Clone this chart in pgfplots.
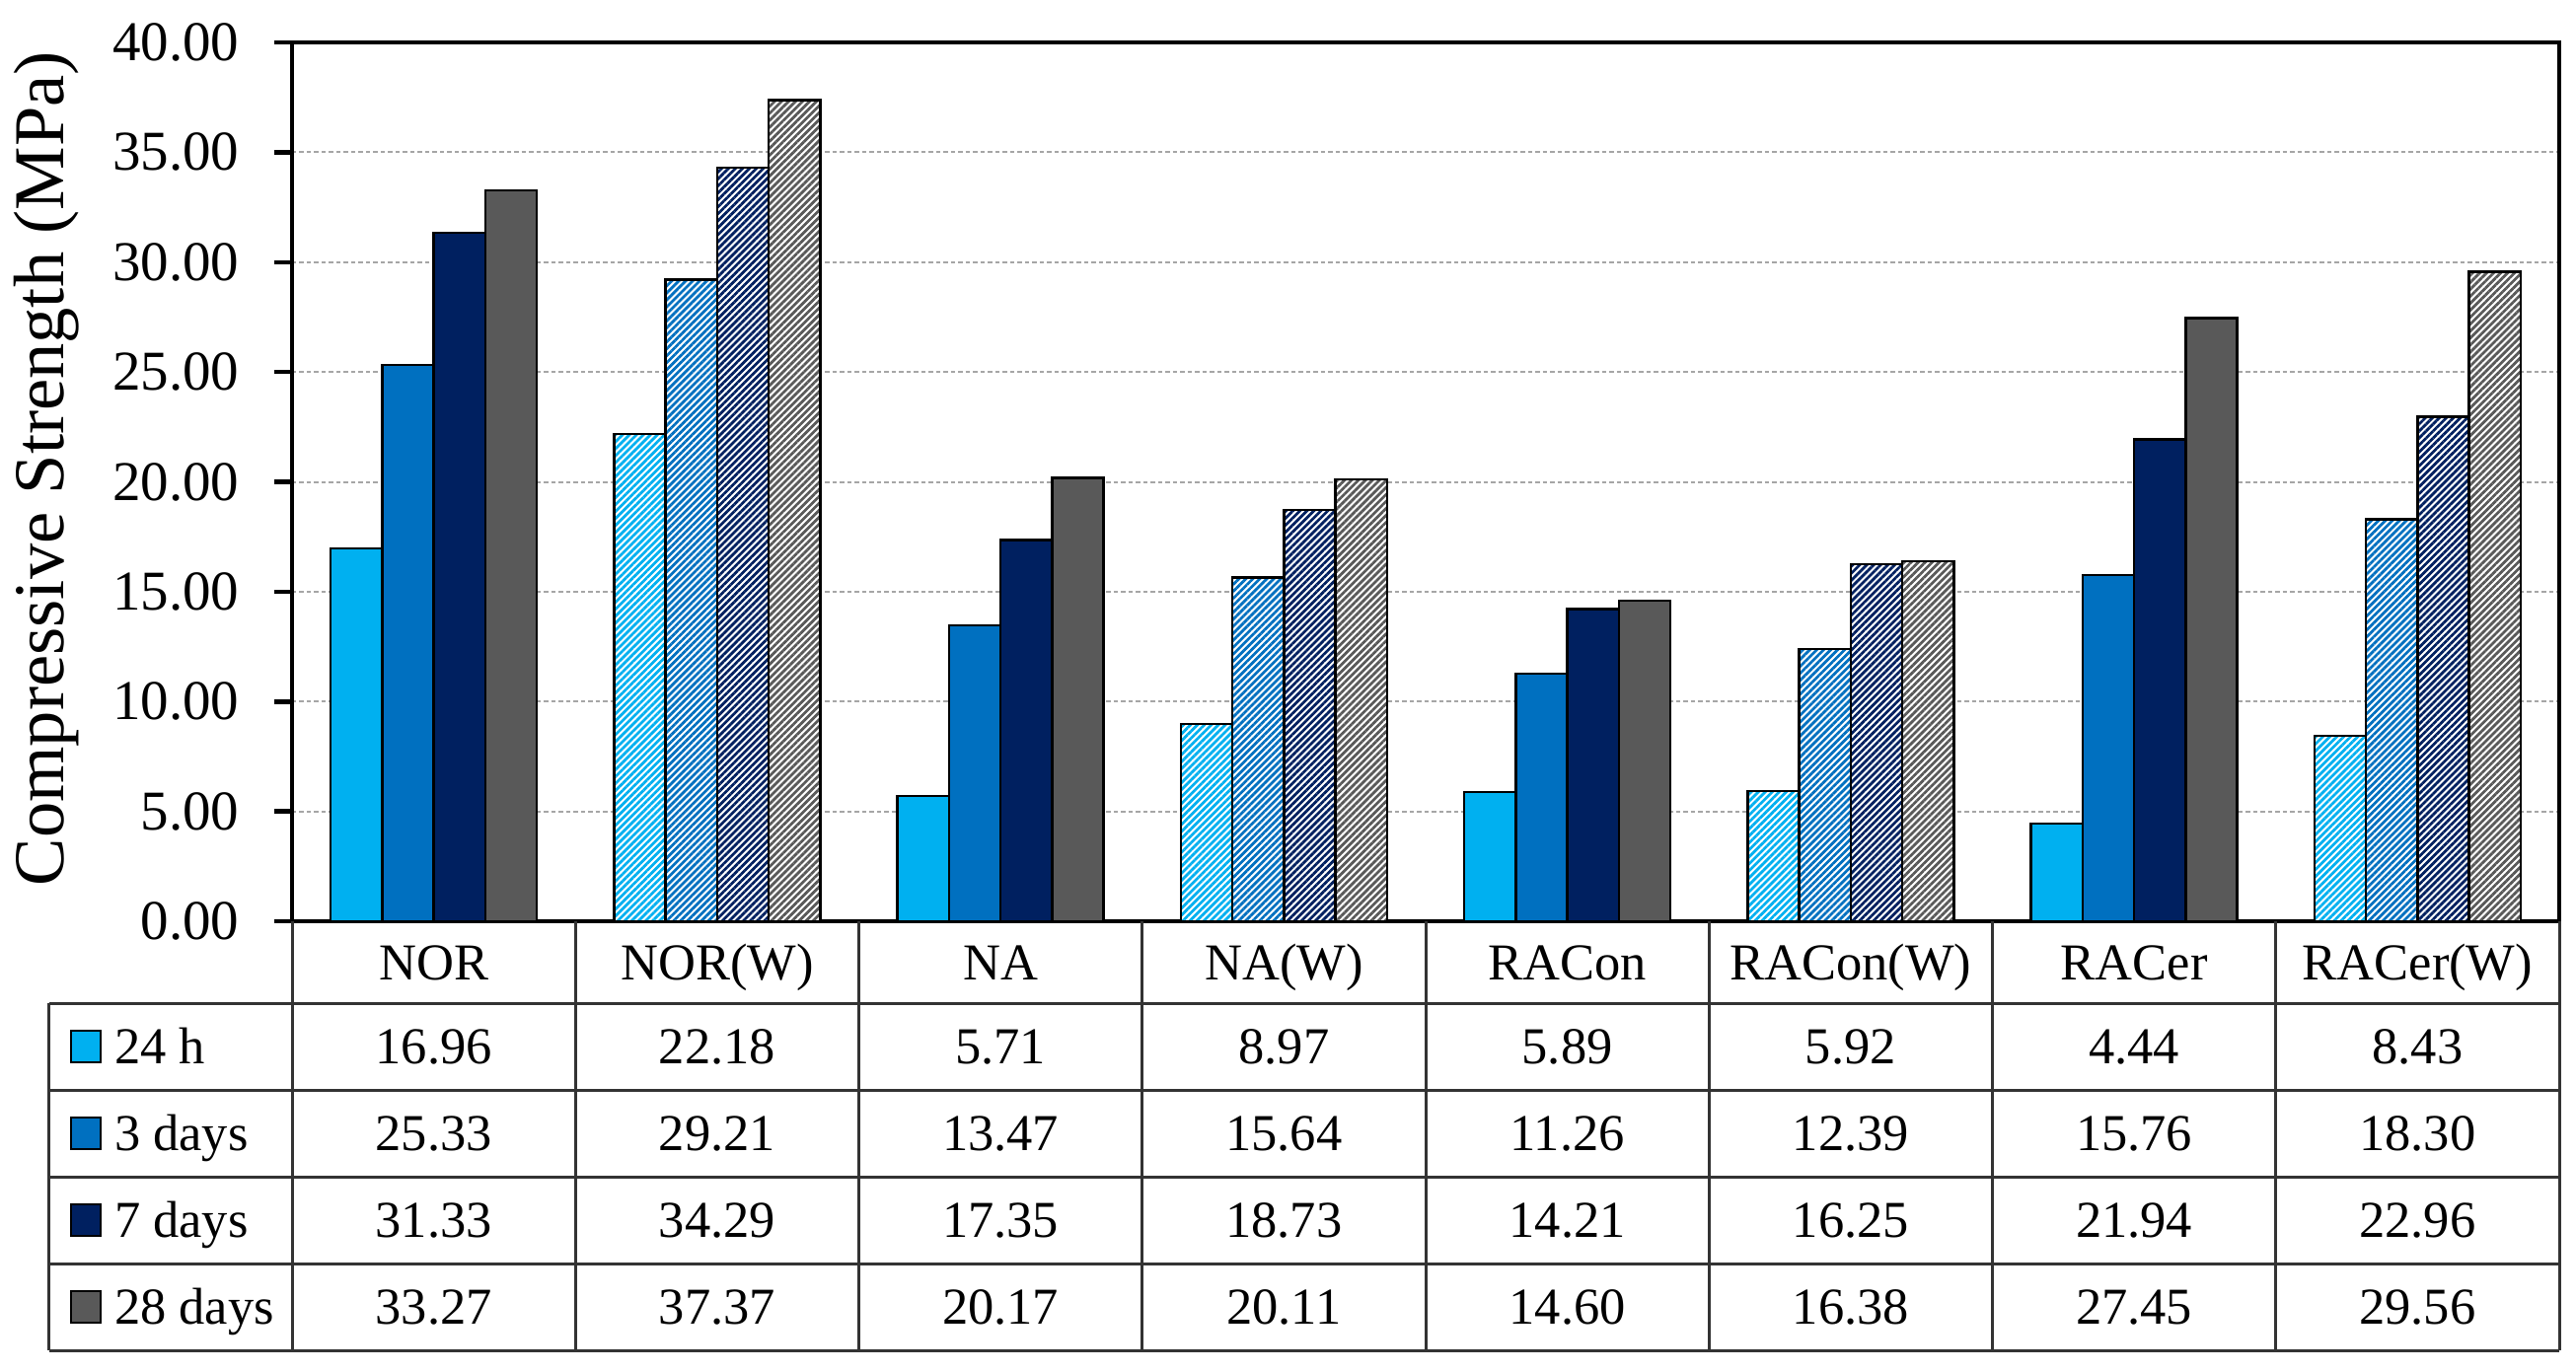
\documentclass[border=0pt]{standalone}
\usepackage{fontspec}
\setmainfont{Liberation Serif}
\usepackage{pgfplots}
\usepackage{pgfplotstable}
\pgfplotsset{compat=1.18}
\usetikzlibrary{patterns.meta}

\definecolor{c24}{HTML}{00B0F0}
\definecolor{c3}{HTML}{0070C0}
\definecolor{c7}{HTML}{002060}
\definecolor{c28}{HTML}{595959}
\definecolor{gridgray}{HTML}{A6A6A6}

% compressive strength (MPa), one row per mix
\pgfplotstableread{
x cat h24 d3 d7 d28
0 NOR 16.96 25.33 31.33 33.27
1 NOR(W) 22.18 29.21 34.29 37.37
2 NA 5.71 13.47 17.35 20.17
3 NA(W) 8.97 15.64 18.73 20.11
4 RACon 5.89 11.26 14.21 14.60
5 RACon(W) 5.92 12.39 16.25 16.38
6 RACer 4.44 15.76 21.94 27.45
7 RACer(W) 8.43 18.30 22.96 29.56
}\strength

\pgfplotsset{
  solidbar/.style={draw=black, line width=0.5pt, fill=#1,
    x filter/.expression={mod(x,2)<0.5 ? x : nan}},
  hatchbar/.style={draw=black, line width=0.5pt, preaction={fill=white},
    pattern={Lines[angle=45,distance=1pt,line width=0.55pt]}, pattern color=#1,
    x filter/.expression={mod(x,2)>0.5 ? x : nan}},
}

\begin{document}
\begin{tikzpicture}
\begin{axis}[
  name=ax,
  scale only axis, width=459.6pt, height=178.2pt,
  ybar, bar width=0.182,
  xmin=-0.5, xmax=7.5, ymin=0, ymax=40,
  xtick=\empty,
  ytick={0,5,...,40},
  ymajorgrids,
  grid style={gridgray, line width=0.4pt, dash pattern=on 0.9pt off 0.6pt},
  axis line style={black, line width=0.9pt},
  tick style={black, line width=0.9pt},
  tick align=outside, major tick length=3.6pt, ytick pos=left,
  yticklabel style={xshift=-3.6pt, /pgf/number format/.cd, fixed, fixed zerofill, precision=2, assume math mode=true},
  tick label style={font=\fontsize{11.4}{13}\selectfont},
  ylabel={Compressive Strength (MPa)},
  every axis y label/.style={at={(axis description cs:-0.1084,0.515)}, rotate=90, anchor=center,
    font=\fontsize{14.5}{16}\selectfont},
]
\addplot[solidbar=c24, bar shift=-0.273] table[x=x,y=h24]{\strength};
\addplot[hatchbar=c24, bar shift=-0.273] table[x=x,y=h24]{\strength};
\addplot[solidbar=c3, bar shift=-0.091] table[x=x,y=d3]{\strength};
\addplot[hatchbar=c3, bar shift=-0.091] table[x=x,y=d3]{\strength};
\addplot[solidbar=c7, bar shift=0.091] table[x=x,y=d7]{\strength};
\addplot[hatchbar=c7, bar shift=0.091] table[x=x,y=d7]{\strength};
\addplot[solidbar=c28, bar shift=0.273] table[x=x,y=d28]{\strength};
\addplot[hatchbar=c28, bar shift=0.273] table[x=x,y=d28]{\strength};
\end{axis}

% data table below the chart (units: reference pixels from the axis origin)
\begin{scope}[shift={(ax.south west)}, x=0.2pt, y=-0.2pt, font=\fontsize{10.5}{12}\selectfont]
  \draw[black!80, line width=0.6pt]
    \foreach \yy in {83,171,259,347,435} {(-246,\yy) -- (2298,\yy)}
    \foreach \i in {0,...,8} {(\i*287.25,0) -- (\i*287.25,435)}
    (-246,83) -- (-246,435);
  \foreach \r in {0,...,7} {
    \pgfplotstablegetelem{\r}{cat}\of\strength
    \node[anchor=base, inner sep=0pt] at ({(\r+0.5)*287.25},59) {\pgfplotsretval};
  }
  \foreach \col/\lab/\cc [count=\k from 0] in {h24/24 h/c24, d3/3 days/c3, d7/7 days/c7, d28/28 days/c28} {
    \draw[black, line width=0.5pt, fill=\cc] (-224,{83+(\k+0.5)*88-16}) rectangle (-194,{83+(\k+0.5)*88+16});
    \node[anchor=base west, inner sep=0pt] at (-181,{83+(\k+0.5)*88+17}) {\lab};
    \foreach \r in {0,...,7} {
      \pgfplotstablegetelem{\r}{\col}\of\strength
      \node[anchor=base, inner sep=0pt] at ({(\r+0.5)*287.25},{83+(\k+0.5)*88+17}) {\pgfplotsretval};
    }
  }
  \pgfresetboundingbox
  \path[use as bounding box] (-296,-934) rectangle (2315,456);
\end{scope}
\end{tikzpicture}
\end{document}
